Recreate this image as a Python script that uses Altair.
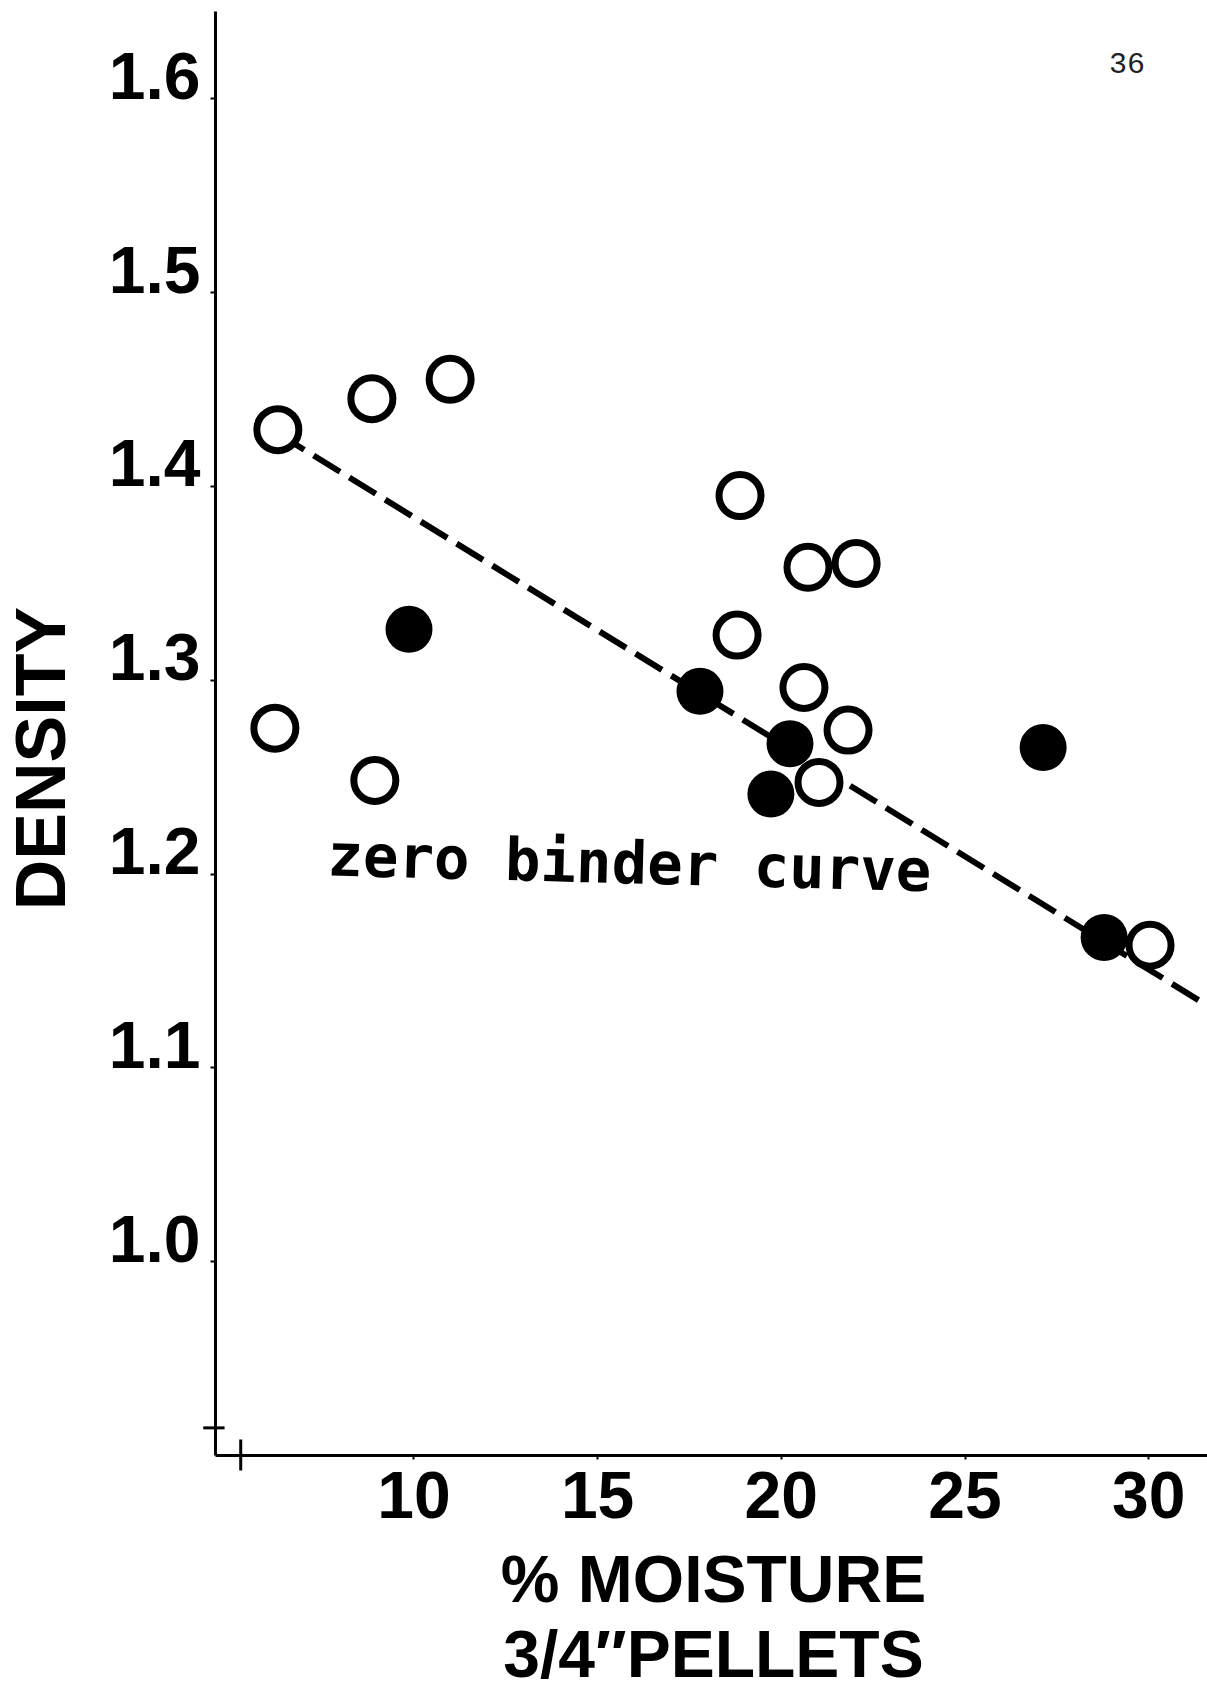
import altair as alt
import pandas as pd

# Pellets shown as open circles
open_moisture = [6.31, 8.87, 11.0, 6.23, 8.95, 18.89, 20.74, 22.05, 18.81, 20.63, 21.83, 21.04, 30.05]
open_density = [1.429, 1.445, 1.455, 1.275, 1.248, 1.395, 1.358, 1.360, 1.323, 1.296, 1.274, 1.247, 1.163]

# Pellets shown as filled circles
filled_moisture = [9.88, 17.80, 20.25, 19.73, 27.14, 28.80]
filled_density = [1.326, 1.294, 1.267, 1.241, 1.265, 1.167]

# Zero binder curve (straight dashed line)
curve_moisture = [6.31, 31.6]
curve_density = [1.427, 1.132]

# Axis ticks
x_ticks = [10, 15, 20, 25, 30]
y_ticks = [1.0, 1.1, 1.2, 1.3, 1.4, 1.5, 1.6]

# Small registration crosses near the origin
cross_x1 = [5.3, 4.28]
cross_x2 = [5.3, 4.86]
cross_y1 = [0.892, 0.914]
cross_y2 = [0.908, 0.914]

# Annotations
label_text = ["zero binder curve"]
label_moisture = [7.65]
label_density = [1.199]
page_text = ["36"]
page_moisture = [29.42]
page_density = [1.613]

open_df = pd.DataFrame({"moisture": open_moisture, "density": open_density})
filled_df = pd.DataFrame({"moisture": filled_moisture, "density": filled_density})
curve_df = pd.DataFrame({"moisture": curve_moisture, "density": curve_density})
cross_df = pd.DataFrame({"x1": cross_x1, "x2": cross_x2, "y1": cross_y1, "y2": cross_y2})
label_df = pd.DataFrame({"moisture": label_moisture, "density": label_density, "text": label_text})
page_df = pd.DataFrame({"moisture": page_moisture, "density": page_density, "text": page_text})

x_scale = alt.Scale(domain=[4.6, 31.6], nice=False, zero=False)
y_scale = alt.Scale(domain=[0.9, 1.645], nice=False, zero=False)

FONT = "Liberation Sans"

x_axis = alt.Axis(
    values=x_ticks,
    format="d",
    title=["% MOISTURE", "3/4\u2033PELLETS"],
    titleFont=FONT,
    titleFontWeight="bold",
    titleFontSize=66,
    titleLineHeight=75,
    titleAngle=0,
    titleAlign="center",
    titleBaseline="alphabetic",
    titleX=498,
    titleY=146,
    labelFont=FONT,
    labelFontWeight="bold",
    labelFontSize=66,
    labelBaseline="top",
    labelPadding=6,
    tickSize=4,
    labelFlush=False,
)

y_axis = alt.Axis(
    values=y_ticks,
    format=".1f",
    title="DENSITY",
    titleFont=FONT,
    titleFontWeight="bold",
    titleFontSize=70,
    titleAngle=270,
    titleAlign="center",
    titleBaseline="middle",
    titleX=-172,
    titleY=747,
    labelFont=FONT,
    labelFontWeight="bold",
    labelFontSize=66,
    labelBaseline="alphabetic",
    labelPadding=10,
    tickSize=5,
    labelFlush=False,
)

curve = alt.Chart(curve_df).mark_line(
    color="black", strokeWidth=6, strokeDash=[31, 11]
).encode(
    x=alt.X("moisture:Q", scale=x_scale, axis=x_axis),
    y=alt.Y("density:Q", scale=y_scale, axis=y_axis),
)

crosses = alt.Chart(cross_df).mark_rule(color="black", strokeWidth=3).encode(
    x=alt.X("x1:Q", scale=x_scale),
    x2="x2:Q",
    y=alt.Y("y1:Q", scale=y_scale),
    y2="y2:Q",
)

filled = alt.Chart(filled_df).mark_point(
    shape="circle", filled=True, color="black", size=2209, opacity=1
).encode(
    x=alt.X("moisture:Q", scale=x_scale),
    y=alt.Y("density:Q", scale=y_scale),
)

hollow = alt.Chart(open_df).mark_point(
    shape="circle", filled=True, fill="white", stroke="black", strokeWidth=7,
    size=1764, opacity=1
).encode(
    x=alt.X("moisture:Q", scale=x_scale),
    y=alt.Y("density:Q", scale=y_scale),
)

label = alt.Chart(label_df).mark_text(
    align="left", baseline="alphabetic", angle=1.5,
    font="DejaVu Sans Mono", fontWeight="bold", fontSize=59, color="black"
).encode(
    x=alt.X("moisture:Q", scale=x_scale),
    y=alt.Y("density:Q", scale=y_scale),
    text="text:N",
)

page = alt.Chart(page_df).mark_text(
    align="center", baseline="alphabetic",
    font="Liberation Mono", fontSize=30, color="#222222"
).encode(
    x=alt.X("moisture:Q", scale=x_scale),
    y=alt.Y("density:Q", scale=y_scale),
    text="text:N",
)

chart = alt.layer(curve, crosses, filled, hollow, label, page).properties(
    width=992,
    height=1444,
    padding={"left": 215, "top": 11, "right": 0, "bottom": 236},
    autosize=alt.AutoSizeParams(type="none"),
    background="white",
).configure_view(
    strokeWidth=0
).configure_axis(
    grid=False,
    domainColor="black",
    domainWidth=3,
    tickColor="black",
    tickWidth=2,
    labelColor="black",
    titleColor="black",
)

chart.save("out.html", embed_options={"renderer": "svg", "actions": False})
